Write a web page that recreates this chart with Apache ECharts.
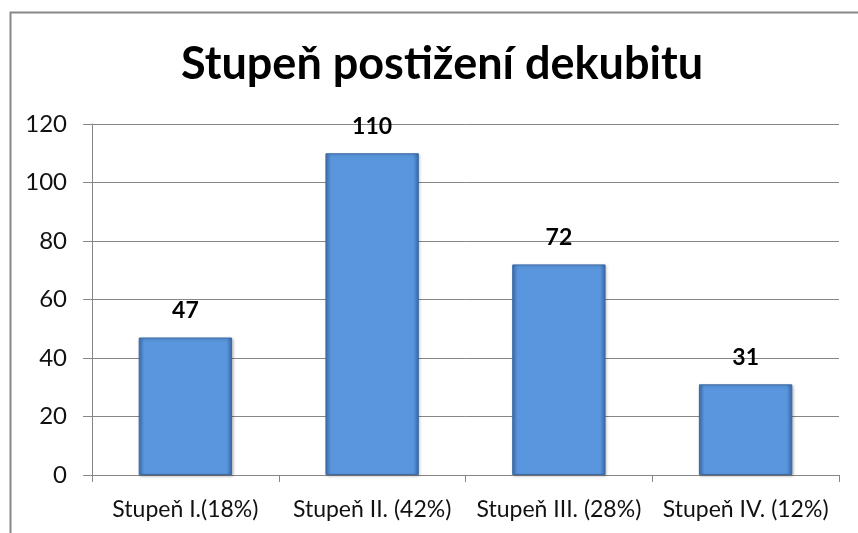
<!DOCTYPE html>
<html lang="cs">
<head>
  <meta charset="utf-8">
  <title>Stupeň postižení dekubitu</title>
  <script src="https://cdn.jsdelivr.net/npm/echarts@6/dist/echarts.min.js"></script>
  <style>
    html, body { margin: 0; padding: 0; background: #fff; }
    #main { width: 858px; height: 533px; }
  </style>
</head>
<body>
  <div id="main"></div>
  <script>
    // data
    var categories = ['Stupeň I.(18%)', 'Stupeň II. (42%)', 'Stupeň III. (28%)', 'Stupeň IV. (12%)'];
    var values = [47, 110, 72, 31];
    var yTicks = [0, 20, 40, 60, 80, 100, 120];

    var chart = echarts.init(document.getElementById('main'));

    var font = 'Lato, "Open Sans", sans-serif';

    var option = {
      animation: false,
      title: {
        text: 'Stupeň postižení dekubitu',
        left: 437,
        textAlign: 'center',
        top: 37,
        textStyle: { fontFamily: font, fontSize: 45, fontWeight: 'bold', color: '#000' }
      },
      // rámeček kolem grafu
      graphic: [{
        type: 'rect',
        shape: { x: 10.5, y: 12.5, width: 900, height: 600 },
        style: { fill: null, stroke: '#888', lineWidth: 2 },
        silent: true
      }],
      grid: { left: 92, right: 19, top: 124, bottom: 58 },
      xAxis: {
        type: 'category',
        data: categories,
        axisLine: { lineStyle: { color: '#868686' } },
        axisTick: { show: true, length: 7, lineStyle: { color: '#868686' } },
        axisLabel: {
          fontFamily: font, fontSize: 23, color: '#111', margin: 23,
          interval: 0, hideOverlap: false
        }
      },
      yAxis: {
        type: 'value',
        min: yTicks[0],
        max: yTicks[yTicks.length - 1],
        interval: 20,
        axisLine: { show: true, lineStyle: { color: '#868686' } },
        axisTick: { show: true, length: 9, lineStyle: { color: '#868686' } },
        splitLine: { lineStyle: { color: '#868686' } },
        axisLabel: { fontFamily: font, fontSize: 24, color: '#111', margin: 25 }
      },
      series: [{
        type: 'bar',
        data: values,
        barWidth: '50%',
        itemStyle: {
          color: {
            type: 'linear', x: 0, y: 0, x2: 1, y2: 0,
            colorStops: [
              { offset: 0, color: '#3f72b4' },
              { offset: 0.06, color: '#5a96dd' },
              { offset: 0.94, color: '#5a96dd' },
              { offset: 1, color: '#3a69a6' }
            ]
          },
          borderColor: '#3b6aa5',
          borderWidth: 1,
          shadowColor: 'rgba(0,0,0,0.25)',
          shadowBlur: 3,
          shadowOffsetX: 1,
          shadowOffsetY: 1
        },
        label: {
          show: true,
          position: 'top',
          distance: 15,
          fontFamily: font,
          fontSize: 23,
          fontWeight: 'bold',
          color: '#000'
        }
      }]
    };

    chart.setOption(option);
  </script>
</body>
</html>
